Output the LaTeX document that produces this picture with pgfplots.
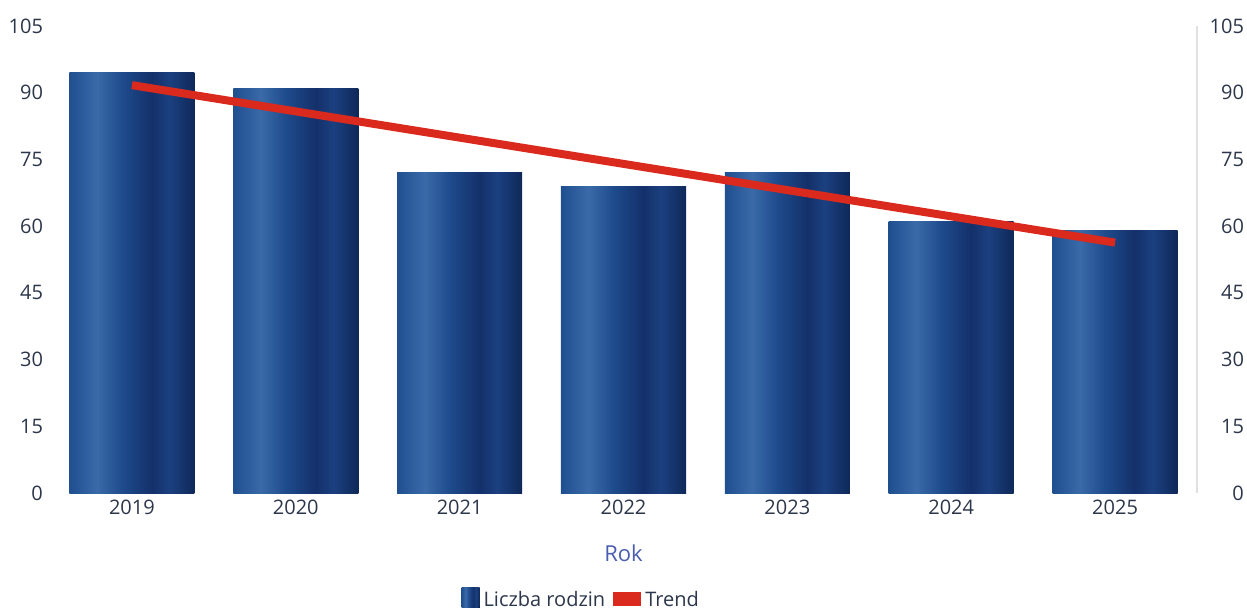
\documentclass[border=0pt]{standalone}
\usepackage{pgfplots}
\pgfplotsset{compat=1.18}
\usepackage{fontspec}
\setmainfont{Open Sans}
\definecolor{bA}{HTML}{1F4F8F}
\definecolor{bB}{HTML}{3A6AA8}
\definecolor{bC}{HTML}{1E4B8C}
\definecolor{bD}{HTML}{14306A}
\definecolor{bE}{HTML}{1B4080}
\definecolor{bF}{HTML}{0F2858}
\definecolor{trendred}{HTML}{DA2A1E}
\definecolor{ticktext}{HTML}{2C364A}
\definecolor{roktext}{HTML}{4A5DB0}
\pgfdeclarehorizontalshading{barshade}{100bp}{color(0bp)=(bA); color(25bp)=(bA); color(36bp)=(bB); color(46bp)=(bC); color(58bp)=(bD); color(65bp)=(bE); color(75bp)=(bF); color(100bp)=(bF)}
\begin{document}
\begin{tikzpicture}
\useasboundingbox (-25pt,-59.5pt) rectangle (598.5pt,246.5pt);
\begin{axis}[
  at={(0,0)}, anchor=south west,
  scale only axis, width=573.5pt, height=233.5pt,
  xmin=-0.5, xmax=6.5, ymin=0, ymax=105,
  xtick={0,1,2,3,4,5,6}, xticklabels={2019,2020,2021,2022,2023,2024,2025},
  ytick={0,15,...,105},
  axis line style={draw=none},
  major tick length=0pt,
  tick label style={font=\fontsize{10}{12}\selectfont, text=ticktext},
  /pgf/number format/assume math mode=true,
  xlabel={Rok},
  xlabel style={at={(axis description cs:0.5,-0.128)}, anchor=center, font=\fontsize{11}{13}\selectfont, text=roktext},
  legend style={draw=none, at={(0.464,-0.229)}, anchor=center, legend columns=2, font=\fontsize{10}{12}\selectfont, text=ticktext, inner sep=1pt, /tikz/every even column/.append style={column sep=2pt}},
  legend cell align=left,
  barst/.style={ybar, bar width=62.5pt, bar shift=0pt, draw=none, shading=barshade},
]
\addplot[barst,
  legend image code/.code={\fill[shading=barshade] (0pt,-4pt) rectangle (9pt,6pt);}]
  coordinates {(0,94.5)};
\addlegendentry{Liczba rodzin}
\addplot[barst, forget plot] coordinates {(1,91)};
\addplot[barst, forget plot] coordinates {(2,72)};
\addplot[barst, forget plot] coordinates {(3,69)};
\addplot[barst, forget plot] coordinates {(4,72)};
\addplot[barst, forget plot] coordinates {(5,61)};
\addplot[barst, forget plot] coordinates {(6,59)};
\addplot[trendred, line width=4pt, mark=none,
  legend image code/.code={\fill[trendred] (0pt,-1pt) rectangle (10pt,2pt);}]
  coordinates {(0,91.7) (6,56.3)};
\addlegendentry{Trend}
\end{axis}
\begin{axis}[
  at={(0,0)}, anchor=south west,
  scale only axis, width=573.5pt, height=233.5pt,
  xmin=-0.5, xmax=6.5, ymin=0, ymax=105,
  axis x line=none,
  axis y line*=right,
  y axis line style={draw=black!12, line width=1pt, -},
  ytick={0,15,...,105},
  major tick length=0pt,
  yticklabel style={font=\fontsize{10}{12}\selectfont, text=ticktext, anchor=east, xshift=27pt},
  /pgf/number format/assume math mode=true,
]
\addplot[draw=none] coordinates {(0,0)};
\end{axis}
\end{tikzpicture}
\end{document}
